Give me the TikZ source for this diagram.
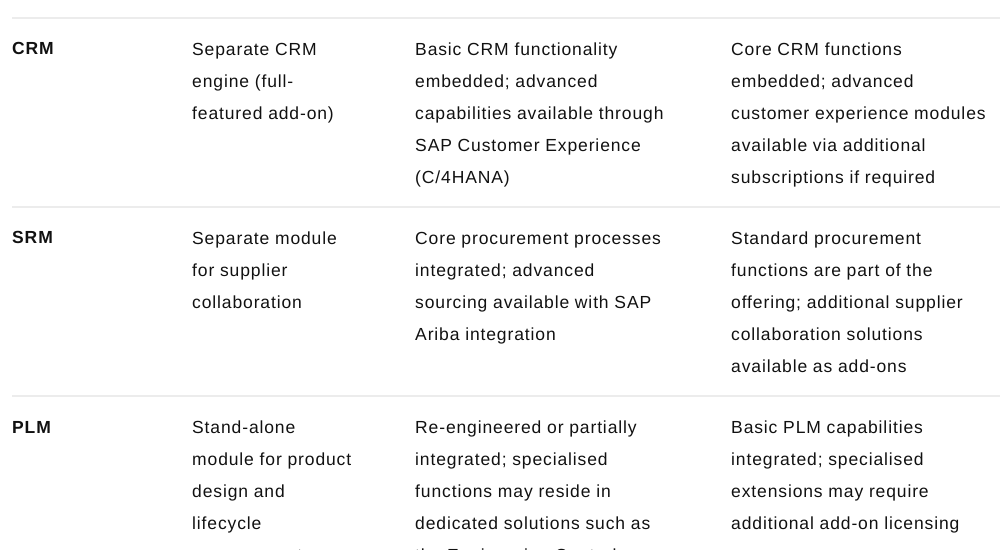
\documentclass[tikz,border=0pt]{standalone}
\usepackage{fontspec}
\setmainfont[LetterSpace=5]{Liberation Sans}
\definecolor{rule}{HTML}{ECECEC}
\definecolor{ink}{HTML}{111111}
\tikzset{
  cell/.style={anchor=north west, inner sep=0pt, align=left, text=ink,
    font=\fontsize{17.5bp}{32bp}\selectfont, yshift=22.4bp},
  head/.style={anchor=base west, inner sep=0pt, text=ink,
    font=\fontsize{17.5bp}{32bp}\selectfont\bfseries},
  sep/.style={draw=rule, line width=1.2bp}
}
\begin{document}
\begin{tikzpicture}[x=1bp,y=-1bp]
\useasboundingbox (0,0) rectangle (1000,550);
\clip (0,0) rectangle (1000,550);
\coordinate (l0a) at (12,18);  \coordinate (l0b) at (1000,18);
\coordinate (l1a) at (12,207); \coordinate (l1b) at (1000,207);
\coordinate (l2a) at (12,396); \coordinate (l2b) at (1000,396);
\draw[sep] (l0a) -- (l0b);
\draw[sep] (l1a) -- (l1b);
\draw[sep] (l2a) -- (l2b);
% row 1
\node[head] (crm) at (12,55) {CRM};
\node[cell] (crm2) at (192,55) {\strut Separate CRM\\engine (full-\\featured add-on)};
\node[cell] (crm3) at (415,55) {\strut Basic CRM functionality\\embedded; advanced\\capabilities available through\\SAP Customer Experience\\(C/4HANA)};
\node[cell] (crm4) at (731,55) {\strut Core CRM functions\\embedded; advanced\\customer experience modules\\available via additional\\subscriptions if required};
% row 2
\node[head] (srm) at (12,244) {SRM};
\node[cell] (srm2) at (192,244) {\strut Separate module\\for supplier\\collaboration};
\node[cell] (srm3) at (415,244) {\strut Core procurement processes\\integrated; advanced\\sourcing available with SAP\\Ariba integration};
\node[cell] (srm4) at (731,244) {\strut Standard procurement\\functions are part of the\\offering; additional supplier\\collaboration solutions\\available as add-ons};
% row 3
\node[head] (plm) at (12,433) {PLM};
\node[cell] (plm2) at (192,433) {\strut Stand-alone\\module for product\\design and\\lifecycle\\management};
\node[cell] (plm3) at (415,433) {\strut Re-engineered or partially\\integrated; specialised\\functions may reside in\\dedicated solutions such as\\the Engineering Control};
\node[cell] (plm4) at (731,433) {\strut Basic PLM capabilities\\integrated; specialised\\extensions may require\\additional add-on licensing};
\end{tikzpicture}
\end{document}
